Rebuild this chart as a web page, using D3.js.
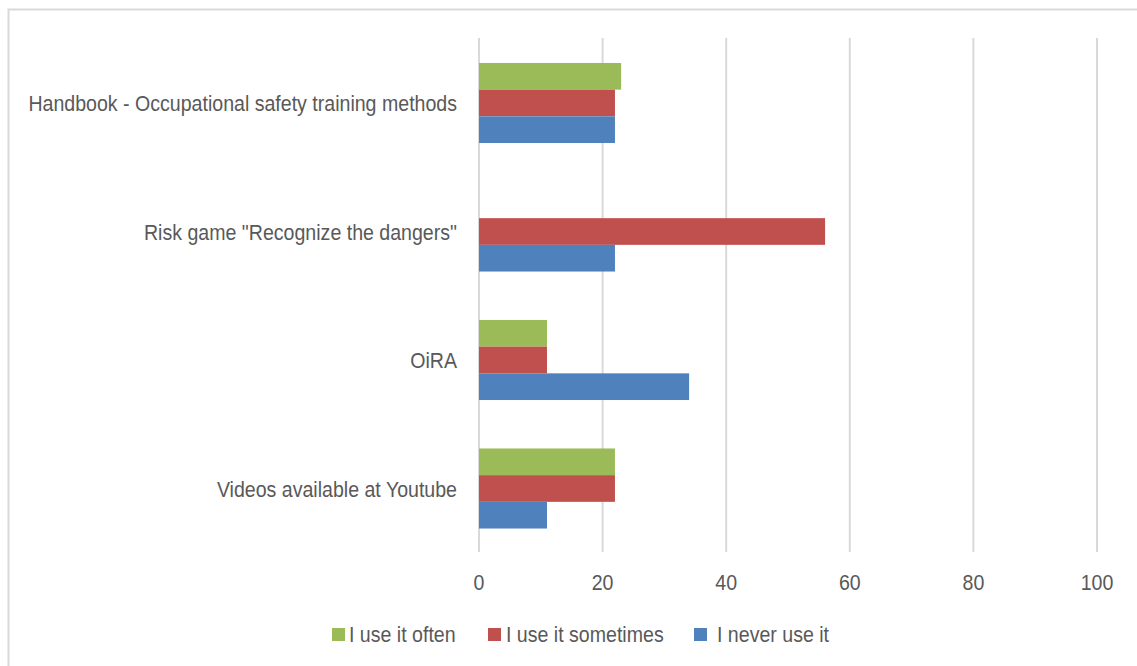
<!DOCTYPE html>
<html><head><meta charset="utf-8">
<script src="https://cdn.jsdelivr.net/npm/d3@7"></script>
<style>body{margin:0;background:#fff;} text{font-family:"Liberation Sans",Arial,sans-serif;fill:#595959;}</style>
</head><body><svg id="c" width="1137" height="666"></svg>
<script>
const categories = ["Handbook - Occupational safety training methods", "Risk game \"Recognize the dangers\"", "OiRA", "Videos available at Youtube"];
const seriesNames = ["I use it often", "I use it sometimes", "I never use it"];
const often = [23, 0, 11, 22];
const sometimes = [22, 56, 11, 22];
const never = [22, 22, 34, 11];
const colors = ["#9BBB59", "#C0504D", "#4F81BD"];
const xTicks = [0, 20, 40, 60, 80, 100];

const FS = 22, SX = 0.89;
const svg = d3.select("#c");
svg.append("path").attr("d","M8.5,1137 L8.5,9.5 L1137,9.5").attr("fill","none").attr("stroke","#D9D9D9").attr("stroke-width",2);

const x = d3.scaleLinear().domain([0,100]).range([479,1097]);
const p = 0.377;
const y = d3.scaleBand().domain(categories).range([38.75,552.75]).paddingInner(p).paddingOuter(p/2);
const yi = d3.scaleBand().domain(seriesNames).range([0,y.bandwidth()]);

svg.append("g").selectAll("line").data(xTicks).join("line")
  .attr("x1",d=>x(d)).attr("x2",d=>x(d)).attr("y1",38).attr("y2",552)
  .attr("stroke","#D9D9D9").attr("stroke-width",2);

const series = [often, sometimes, never];
series.forEach((vals,si)=>{
  svg.append("g").selectAll("rect").data(vals.map((v,i)=>({v,c:categories[i]}))).join("rect")
    .attr("x",x(0)).attr("width",d=>x(d.v)-x(0))
    .attr("y",d=>y(d.c)+yi(seriesNames[si])).attr("height",yi.bandwidth())
    .attr("fill",colors[si]);
});

function label(g, tx, ty, str, anchor){
  g.append("text").attr("transform",`translate(${tx},${ty}) scale(${SX},1)`)
    .attr("text-anchor",anchor).attr("font-size",FS).text(str);
}

const cg = svg.append("g");
categories.forEach(c=>label(cg, 457, y(c)+y.bandwidth()/2+8, c, "end"));

const tg = svg.append("g");
xTicks.forEach(t=>label(tg, x(t), 590, t, "middle"));

const legX = [332, 488, 694];
const legTextX = [349, 506, 717];
const lg = svg.append("g");
seriesNames.forEach((n,i)=>{
  lg.append("rect").attr("x",legX[i]).attr("y",628).attr("width",13).attr("height",13).attr("fill",colors[i]);
  label(lg, legTextX[i], 642, n, "start");
});
</script></body></html>
